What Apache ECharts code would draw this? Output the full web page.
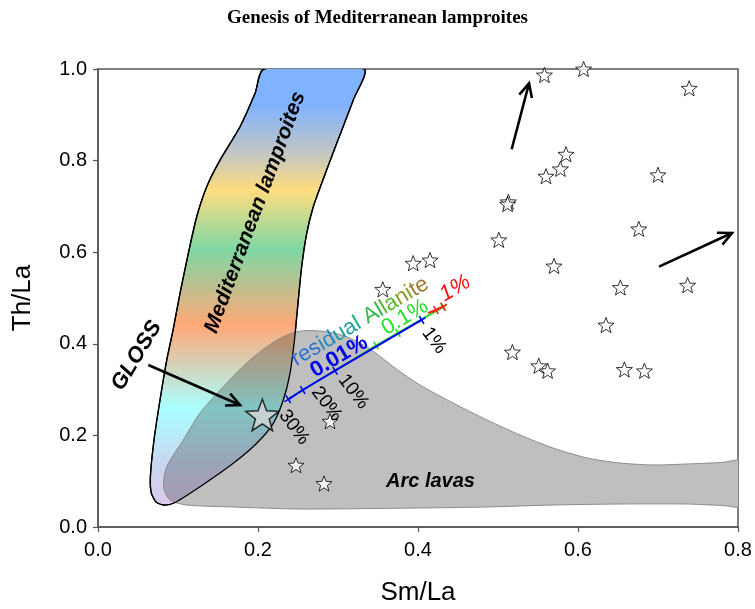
<!DOCTYPE html>
<html><head><meta charset="utf-8">
<script src="https://cdn.jsdelivr.net/npm/echarts@6/dist/echarts.min.js"></script>
<style>html,body{margin:0;padding:0;background:#fff}#c{width:755px;height:609px}</style>
</head><body><div id="c"></div>
<script>
// ---------- DATA ----------
const xTicks = [0.0, 0.2, 0.4, 0.6, 0.8];
const yTicks = [0.0, 0.2, 0.4, 0.6, 0.8, 1.0];

// Open stars (samples)
const starsX = [0.558,0.607,0.739,0.585,0.578,0.560,0.700,0.513,0.512,0.676,0.501,0.570,0.653,0.737,0.635,0.518,0.551,0.562,0.658,0.683,0.356,0.394,0.415,0.290,0.2475,0.2825];
const starsY = [0.987,1.000,0.958,0.814,0.782,0.766,0.769,0.710,0.705,0.651,0.627,0.570,0.523,0.528,0.441,0.382,0.352,0.341,0.344,0.341,0.519,0.576,0.583,0.231,0.135,0.095];

// GLOSS composition
const glossX = [0.2054];
const glossY = [0.2445];

// Melting curves (residual allanite 0.01%, 0.1%, 1%); ticks at 30%,20%,10%,1% melting
const meltLabels = ['30%','20%','10%','1%'];
const blueX  = [0.2379, 0.2559, 0.2963, 0.4046];
const blueY  = [0.2788, 0.2991, 0.3413, 0.4520];
const greenX = [0.2388, 0.3475, 0.3750, 0.4313];
const greenY = [0.2806, 0.3963, 0.4236, 0.4803];
const redX   = [0.4125, 0.4225, 0.4313];
const redY   = [0.4672, 0.4738, 0.4815];

// Mediterranean lamproites field outline
const lampX = [0.2075,0.1963,0.1775,0.1525,0.1359,0.1234,0.1129,0.1025,0.0938,0.0859,0.0775,0.0700,0.0656,0.0663,0.0725,0.0825,0.0950,0.1275,0.1691,0.1984,0.2191,0.2316,0.2400,0.2456,0.2488,0.2546,0.2609,0.2691,0.2796,0.2984,0.3191,0.3325];
const lampY = [1.000,0.947,0.874,0.801,0.743,0.6775,0.5976,0.5103,0.4301,0.3646,0.2773,0.1900,0.1135,0.0764,0.0546,0.0480,0.0524,0.0880,0.1391,0.1828,0.2264,0.2773,0.3356,0.4083,0.4666,0.5683,0.6413,0.6993,0.7504,0.8378,0.9323,1.000];

// Arc lavas field outline
const arcX = [0.0900,0.0819,0.0859,0.1066,0.1275,0.1609,0.1900,0.2234,0.2500,0.2775,0.3088,0.3400,0.3713,0.4025,0.4438,0.4863,0.5275,0.5688,0.6113,0.6525,0.6938,0.7363,0.7800,0.8150,0.8150,0.7800,0.7363,0.6525,0.5688,0.4863,0.4025,0.2525,0.1688,0.1109];
const arcY = [0.0590,0.0873,0.1317,0.1900,0.2490,0.3144,0.3646,0.4083,0.4269,0.4280,0.4170,0.3886,0.3472,0.3100,0.2707,0.2336,0.2009,0.1725,0.1507,0.1397,0.1354,0.1376,0.1410,0.1450,0.0455,0.0470,0.0502,0.0502,0.0480,0.0437,0.0415,0.0393,0.0437,0.0480];

// Trend arrows (from -> to)
const arrowFromX = [0.0629, 0.5171, 0.7013];
const arrowFromY = [0.3537, 0.8247, 0.5684];
const arrowToX   = [0.1775, 0.5388, 0.7925];
const arrowToY   = [0.2664, 0.9688, 0.6419];

// ---------- LAYOUT / STYLE ----------
const SANS = '"Liberation Sans", Arial, sans-serif';
const STAR = 'path://M10,0L12.47,6.6L19.51,6.91L13.99,11.36L15.88,18.09L10,14.2L4.12,18.09L6.01,11.36L0.49,6.91L7.53,6.6Z';
const TICK = 'path://M5,0L5,10M0,5L10,5';
const D = Math.PI / 180;

const annotations = [
  {t:'Mediterranean lamproites', x:0.1965, y:0.6871, r:69.7, font:'italic bold 21px '+SANS, fill:'#000'},
  {t:'GLOSS', x:0.0484, y:0.374, r:59, font:'italic bold 22px '+SANS, fill:'#000'},
  {t:'Arc lavas', x:0.4156, y:0.1004, r:0, font:'italic bold 20px '+SANS, fill:'#000'},
  {t:'0.01%', x:0.3013, y:0.3718, r:30.5, font:'bold 22px '+SANS, fill:'#0000ee'},
  {t:'0.1%', x:0.3838, y:0.4579, r:30.5, font:'22px '+SANS, fill:'#22e022'},
  {t:'1%', x:0.4463, y:0.5212, r:30.5, font:'italic 22px '+SANS, fill:'#ff1010'},
  {t:meltLabels[3], x:0.420, y:0.4068, r:-53, font:'19px '+SANS, fill:'#000'},
  {t:meltLabels[2], x:0.3191, y:0.2954, r:-53, font:'19px '+SANS, fill:'#000'},
  {t:meltLabels[1], x:0.2859, y:0.2686, r:-53, font:'19px '+SANS, fill:'#000'},
  {t:meltLabels[0], x:0.2450, y:0.2177, r:-53, font:'19px '+SANS, fill:'#000'}
];
const allaniteLabel = {x:0.3275, y:0.4483, r:30.5};
const allaniteRich = [
  ['r','#2f62e0'],['es','#2a70d0'],['id','#2488bc'],['ua','#1e9ea0'],['l ','#1eae84'],
  ['Al','#34b84c'],['la','#58b82a'],['ni','#84a02a'],['te','#9a7832']
];

const lampStops = [
  [0.00,'#7fb2ff'],[0.09,'#7fb2ff'],[0.20,'#c2c6c4'],[0.285,'#ffdc80'],[0.42,'#7fd8a4'],
  [0.50,'#bcc090'],[0.59,'#ffa878'],[0.78,'#a8ffff'],[0.90,'#c8d8f0'],[1.00,'#dcc8ec']
];
const ARC_FILL = '#bfbfbf';
const ARC_FACTOR = 0.77;

function zip(xs, ys){ return xs.map((x,i)=>[x, ys[i]]); }
function mul(hex, f){
  const n = parseInt(hex.slice(1),16);
  const r = Math.round(((n>>16)&255)*f), g = Math.round(((n>>8)&255)*f), b = Math.round((n&255)*f);
  return 'rgb('+r+','+g+','+b+')';
}
function grad(f){
  return new echarts.graphic.LinearGradient(0,0,0,1, lampStops.map(s=>({offset:s[0], color: f===1 ? s[1] : mul(s[1], f)})));
}

function lineSeries(xs, ys, color, z, noSymFirst){
  return {
    type:'line', z:z, data: zip(xs, ys).map((v,i)=> (noSymFirst && i===0) ? {value:v, symbol:'none'} : v),
    lineStyle:{color:color, width:2},
    symbol:TICK, symbolSize:9, symbolRotate:31, showAllSymbol:true,
    itemStyle:{color:'none', borderColor:color, borderWidth:1.6},
    silent:true
  };
}

const option = {
  animation:false,
  backgroundColor:'#fff',
  title:{
    text:'Genesis of Mediterranean lamproites', left:'center', top:4,
    textStyle:{fontFamily:'"Liberation Serif", "Times New Roman", serif', fontWeight:'bold', fontSize:19, color:'#000'}
  },
  grid:{left:98, right:17, top:69, bottom:82, containLabel:false, outerBoundsMode:'none',
        show:true, borderColor:'#555', borderWidth:1.5, backgroundColor:'transparent'},
  xAxis:{
    type:'value', min:xTicks[0], max:xTicks[xTicks.length-1], interval:0.2,
    name:'Sm/La', nameLocation:'middle', nameGap:53,
    nameTextStyle:{fontFamily:SANS, fontSize:26, color:'#000'},
    axisLine:{show:true, lineStyle:{color:'#555', width:1.5}},
    axisTick:{show:true, inside:false, length:5, lineStyle:{color:'#555', width:1.2}},
    axisLabel:{margin:13, fontFamily:SANS, fontSize:20, color:'#000', formatter:v=>v.toFixed(1)},
    splitLine:{show:false}
  },
  yAxis:{
    type:'value', min:yTicks[0], max:yTicks[yTicks.length-1], interval:0.2,
    name:'Th/La', nameLocation:'middle', nameGap:62, nameRotate:90,
    nameTextStyle:{fontFamily:SANS, fontSize:26, color:'#000'},
    axisLine:{show:true, lineStyle:{color:'#555', width:1.5}},
    axisTick:{show:true, inside:false, length:5, lineStyle:{color:'#555', width:1.2}},
    axisLabel:{margin:11, fontFamily:SANS, fontSize:20, color:'#000', formatter:v=>v.toFixed(1)},
    splitLine:{show:false}
  },
  series:[
    {
      type:'custom', coordinateSystem:'cartesian2d', z:1, clip:true, silent:true,
      data:[[lampX[0], lampY[0]]],
      renderItem:function(params, api){
        const lp = lampX.map((x,i)=>api.coord([x, lampY[i]]));
        const ap = arcX.map((x,i)=>api.coord([x, arcY[i]]));
        const sm = 0.25;
        return {type:'group', children:[
          {type:'polygon', shape:{points:lp, smooth:sm}, style:{fill:grad(1), stroke:'#000', lineWidth:1.3}},
          {type:'polygon', shape:{points:ap, smooth:sm}, style:{fill:ARC_FILL, stroke:null}},
          {type:'polygon', shape:{points:lp, smooth:sm}, style:{fill:grad(ARC_FACTOR), stroke:null},
            clipPath:{type:'polygon', shape:{points:ap, smooth:sm}}},
          {type:'polygon', shape:{points:ap, smooth:sm}, style:{fill:null, stroke:'#8c8c8c', lineWidth:1}},
          {type:'polygon', shape:{points:lp, smooth:sm}, style:{fill:null, stroke:'#000', lineWidth:1.3}}
        ]};
      }
    },
    {
      type:'scatter', z:3, data:zip(starsX, starsY), symbol:STAR, symbolSize:16, symbolKeepAspect:true,
      itemStyle:{color:'#fff', borderColor:'#000', borderWidth:1}, silent:true
    },
    {
      type:'scatter', z:3, data:zip(glossX, glossY), symbol:STAR, symbolSize:33, symbolKeepAspect:true,
      itemStyle:{color:'#d6d6d6', borderColor:'#000', borderWidth:1.5}, silent:true
    },
    lineSeries(greenX, greenY, '#22e022', 4, true),
    lineSeries(redX, redY, '#ff2020', 5, true),
    lineSeries(blueX, blueY, '#0000ff', 6, false),
    {
      type:'custom', coordinateSystem:'cartesian2d', z:7, clip:false, silent:true,
      data:[[arrowFromX[0], arrowFromY[0]]],
      renderItem:function(params, api){
        const children = [];
        for (let i=0;i<arrowFromX.length;i++){
          const p1 = api.coord([arrowFromX[i], arrowFromY[i]]);
          const p2 = api.coord([arrowToX[i], arrowToY[i]]);
          const ang = Math.atan2(p2[1]-p1[1], p2[0]-p1[0]);
          const L = 15, s = 0.45;
          const w1 = [p2[0]-L*Math.cos(ang-s), p2[1]-L*Math.sin(ang-s)];
          const w2 = [p2[0]-L*Math.cos(ang+s), p2[1]-L*Math.sin(ang+s)];
          children.push({type:'line', shape:{x1:p1[0], y1:p1[1], x2:p2[0], y2:p2[1]}, style:{stroke:'#000', lineWidth:2.6}});
          children.push({type:'polyline', shape:{points:[w1,p2,w2]}, style:{stroke:'#000', lineWidth:2.6, fill:null}});
        }
        annotations.forEach(a=>{
          const p = api.coord([a.x, a.y]);
          children.push({type:'text', x:p[0], y:p[1], rotation:a.r*D,
            style:{text:a.t, font:a.font, fill:a.fill, align:'center', verticalAlign:'middle'}});
        });
        const pa = api.coord([allaniteLabel.x, allaniteLabel.y]);
        const rich = {};
        let txt = '';
        allaniteRich.forEach((seg,i)=>{
          rich['s'+i] = {fill:seg[1], color:seg[1], font:'22px '+SANS};
          txt += '{s'+i+'|'+seg[0]+'}';
        });
        children.push({type:'text', x:pa[0], y:pa[1], rotation:allaniteLabel.r*D,
          style:{text:txt, rich:rich, font:'22px '+SANS, align:'center', verticalAlign:'middle'}});
        return {type:'group', children:children};
      }
    }
  ]
};

const chart = echarts.init(document.getElementById('c'), null, {renderer:'canvas'});
chart.setOption(option);
</script>
</body></html>
